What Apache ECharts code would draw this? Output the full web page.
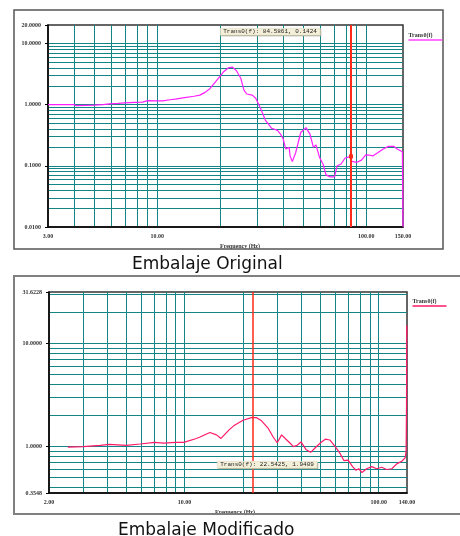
<!DOCTYPE html>
<html>
<head>
<meta charset="utf-8">
<style>
  html, body { margin: 0; padding: 0; background: #fff; }
  #main { width: 460px; height: 536px; }
</style>
<script src="https://cdn.jsdelivr.net/npm/echarts@6/dist/echarts.min.js"></script>
</head>
<body>
<div id="main"></div>
<script>
// Embalaje Original
var freqOriginal = [3, 3.5, 4, 4.1, 4.5, 5, 5.5, 5.9, 6.5, 7, 7.8, 8.5, 9, 10, 10.6, 11.5, 12.2, 13.5, 15, 16, 17, 17.9, 19.3, 20.8, 21.9, 22.9, 23.9, 25.1, 26, 26.8, 28.5, 29.6, 31.2, 32.9, 35.3, 37.6, 38.9, 40, 41.2, 42.8, 43.2, 44.3, 46, 48.6, 51.5, 53.8, 55.9, 57.5, 59.8, 62.2, 64.2, 67.2, 70.5, 72.6, 75.6, 79.3, 81.2, 84.6, 85.3, 90.3, 94.9, 99.5, 103, 107.5, 113.9, 120.7, 127.8, 135.4, 140.7, 144.5, 149, 150];
var transOriginal = [1.0, 1.0, 1.0, 0.96, 0.97, 0.98, 1.0, 1.03, 1.05, 1.07, 1.09, 1.1, 1.16, 1.15, 1.15, 1.2, 1.23, 1.3, 1.37, 1.43, 1.6, 1.84, 2.52, 3.45, 4.0, 4.1, 3.6, 2.7, 1.73, 1.49, 1.43, 1.27, 0.87, 0.56, 0.41, 0.38, 0.33, 0.28, 0.188, 0.2, 0.146, 0.117, 0.165, 0.35, 0.42, 0.33, 0.2, 0.22, 0.137, 0.106, 0.071, 0.066, 0.066, 0.1, 0.106, 0.134, 0.137, 0.1424, 0.118, 0.114, 0.124, 0.151, 0.15, 0.145, 0.165, 0.188, 0.208, 0.208, 0.188, 0.18, 0.17, 0.01];

// Embalaje Modificado
var freqModified = [2.5, 3, 3.67, 4.1, 5, 5.9, 7, 7.8, 9, 9.9, 11.5, 12, 13.5, 14.6, 15.4, 17, 17.9, 20, 22.1, 22.54, 23.5, 24.9, 27, 28.6, 30, 31.6, 33.3, 34.8, 36.4, 38, 39.8, 42.2, 44.6, 47, 50.2, 53.1, 56, 59.7, 63, 66.3, 69.6, 73.4, 76.4, 79, 82.1, 86.7, 92.2, 97.7, 103.7, 110, 116.9, 124, 131.5, 137, 138.5, 139.2, 139.6, 140];
var transModified = [0.99, 1.0, 1.03, 1.05, 1.03, 1.06, 1.1, 1.08, 1.1, 1.1, 1.2, 1.24, 1.37, 1.3, 1.2, 1.46, 1.59, 1.8, 1.91, 1.94, 1.91, 1.78, 1.5, 1.24, 1.09, 1.3, 1.18, 1.09, 1.0, 1.03, 1.11, 0.94, 0.88, 0.97, 1.09, 1.18, 1.16, 1.0, 0.87, 0.73, 0.74, 0.64, 0.59, 0.61, 0.56, 0.61, 0.64, 0.61, 0.63, 0.6, 0.61, 0.68, 0.72, 0.78, 0.9, 2.5, 15, 12];

// grid lines and labels
var xGridOriginal = [4, 5, 6, 7, 8, 9, 10, 20, 30, 40, 50, 60, 70, 80, 90, 100];
var yGridOriginal = [0.02, 0.03, 0.04, 0.05, 0.06, 0.07, 0.08, 0.09, 0.1, 0.2, 0.3, 0.4, 0.5, 0.6, 0.7, 0.8, 0.9, 1, 2, 3, 4, 5, 6, 7, 8, 9, 10];
var xLabelsOriginal = [3, 10, 100, 150];
var yLabelsOriginal = [0.01, 0.1, 1, 10, 20];

var xGridModified = [3, 4, 5, 6, 7, 8, 9, 10, 20, 30, 40, 50, 60, 70, 80, 90, 100];
var yGridModified = [0.4, 0.5, 0.6, 0.7, 0.8, 0.9, 1, 2, 3, 4, 5, 6, 7, 8, 9, 10, 20, 30];
var xLabelsModified = [2, 10, 100, 140];
var yLabelsModified = [0.3548, 1, 10, 31.6228];

var cursorOriginal = [84.5861, 0.1424];
var cursorModified = [22.5425, 1.9409];

var gridColor = '#138585';
var smallFont = 'Liberation Serif';

function pairs(xs, ys) {
    return xs.map(function (x, i) { return [x, ys[i]]; });
}

function xAxisFor(gridIndex, min, max, gridVals, labelVals, namePad) {
    return {
        type: 'log',
        gridIndex: gridIndex,
        min: min,
        max: max,
        name: 'Frequency (Hz)',
        nameLocation: 'middle',
        nameGap: 16,
        nameTextStyle: { fontFamily: smallFont, fontSize: 6, fontWeight: 'bold', color: '#333', padding: [0, 0, 0, namePad] },
        axisLine: { show: true, lineStyle: { color: '#000', width: 1.5 } },
        axisTick: { show: false, customValues: gridVals },
        axisLabel: {
            customValues: labelVals,
            fontFamily: smallFont, fontSize: 6, fontWeight: 'bold', color: '#333', margin: 6,
            formatter: function (v) { return Number(v).toFixed(2); }
        },
        splitLine: { show: true, lineStyle: { color: gridColor, width: 1 } }
    };
}

function yAxisFor(gridIndex, min, max, gridVals, labelVals) {
    return [{
        type: 'log',
        gridIndex: gridIndex,
        position: 'left',
        min: min,
        max: max,
        axisLine: { show: true, lineStyle: { color: '#000', width: 1.5 } },
        axisTick: { show: false, customValues: gridVals },
        axisLabel: {
            customValues: labelVals,
            fontFamily: smallFont, fontSize: 6, fontWeight: 'bold', color: '#333', margin: 7,
            formatter: function (v) { return Number(v).toFixed(4); }
        },
        splitLine: { show: true, lineStyle: { color: gridColor, width: 1 } }
    }, {
        // second axis on the same side only carries the short ticks at the labels
        type: 'log',
        gridIndex: gridIndex,
        position: 'left',
        offset: 0,
        min: min,
        max: max,
        axisLine: { show: false },
        axisTick: { show: true, customValues: labelVals, length: 3, lineStyle: { color: '#000' } },
        axisLabel: { show: false },
        splitLine: { show: false }
    }];
}

function readout(x, y, text) {
    return {
        type: 'group',
        left: x,
        top: y,
        z: 200,
        children: [
            { type: 'rect', z: 200, shape: { x: 1, y: 1, width: 100, height: 7 }, style: { fill: '#9a9a8a' } },
            { type: 'rect', z: 201, shape: { x: 0, y: 0, width: 100, height: 7 }, style: { fill: '#f3efd8', stroke: '#d8d4bc', lineWidth: 0.5 } },
            { type: 'text', z: 202, x: 3, y: 0.5, style: { text: text, font: '6px "Liberation Mono"', fill: '#222' } }
        ]
    };
}

function legendMark(x, y, color) {
    return {
        type: 'group',
        left: x,
        top: y,
        z: 200,
        children: [
            { type: 'text', z: 200, x: 0, y: 0, style: { text: 'Trans0(f)', font: 'bold 6px "Liberation Serif"', fill: '#333' } },
            { type: 'line', z: 200, shape: { x1: 0, y1: 8, x2: 34, y2: 8 }, style: { stroke: color, lineWidth: 1.5 } }
        ]
    };
}

var chart = echarts.init(document.getElementById('main'));

var option = {
    backgroundColor: '#fff',
    animation: false,
    title: [
        { text: 'Embalaje Original', left: 127, top: 251, textStyle: { fontFamily: 'DejaVu Sans', fontSize: 17, fontWeight: 'normal', color: '#111' } },
        { text: 'Embalaje Modificado', left: 113, top: 517, textStyle: { fontFamily: 'DejaVu Sans', fontSize: 17, fontWeight: 'normal', color: '#111' } }
    ],
    grid: [
        { left: 48, top: 25, width: 355, height: 202, show: true, borderColor: '#333', borderWidth: 1.5 },
        { left: 49, top: 292, width: 358, height: 201, show: true, borderColor: '#333', borderWidth: 1.5 }
    ],
    xAxis: [
        xAxisFor(0, 3, 150, xGridOriginal, xLabelsOriginal, 29),
        xAxisFor(1, 2, 140, xGridModified, xLabelsModified, 14)
    ],
    yAxis: yAxisFor(0, 0.01, 20, yGridOriginal, yLabelsOriginal)
        .concat(yAxisFor(1, 0.3548, 31.6228, yGridModified, yLabelsModified)),
    series: [{
        type: 'line',
        xAxisIndex: 0,
        yAxisIndex: 0,
        data: pairs(freqOriginal, transOriginal),
        showSymbol: false,
        lineStyle: { color: '#ff1fff', width: 1.2 },
        itemStyle: { color: '#ff1fff' },
        markLine: {
            silent: true,
            symbol: 'none',
            label: { show: false },
            lineStyle: { color: '#ff2a1a', width: 2, type: 'solid' },
            data: [{ xAxis: cursorOriginal[0] }]
        },
        markPoint: {
            symbol: 'rect',
            symbolSize: 4,
            itemStyle: { color: '#ff2a1a' },
            label: { show: false },
            data: [{ coord: cursorOriginal }]
        }
    }, {
        type: 'line',
        xAxisIndex: 1,
        yAxisIndex: 2,
        data: pairs(freqModified, transModified),
        showSymbol: false,
        lineStyle: { color: '#ff1a6a', width: 1.2 },
        itemStyle: { color: '#ff1a6a' },
        markLine: {
            silent: true,
            symbol: 'none',
            label: { show: false },
            lineStyle: { color: '#ff2a1a', width: 1.5, type: 'solid' },
            data: [{ xAxis: cursorModified[0] }]
        }
    }],
    graphic: [
        { type: 'rect', shape: { x: 14, y: 10, width: 429, height: 239 }, style: { fill: 'none', stroke: '#555', lineWidth: 1.5 }, z: 100 },
        { type: 'rect', shape: { x: 14, y: 276, width: 460, height: 238 }, style: { fill: 'none', stroke: '#808080', lineWidth: 2 }, z: 100 },
        readout(220, 28, 'Trans0(f): ' + cursorOriginal[0].toFixed(4) + ', ' + cursorOriginal[1].toFixed(4)),
        readout(217, 461, 'Trans0(f): ' + cursorModified[0].toFixed(4) + ', ' + cursorModified[1].toFixed(4)),
        legendMark(406, 32, '#ff44ff'),
        legendMark(410, 298, '#ff1a6a')
    ]
};

chart.setOption(option);
</script>
</body>
</html>
